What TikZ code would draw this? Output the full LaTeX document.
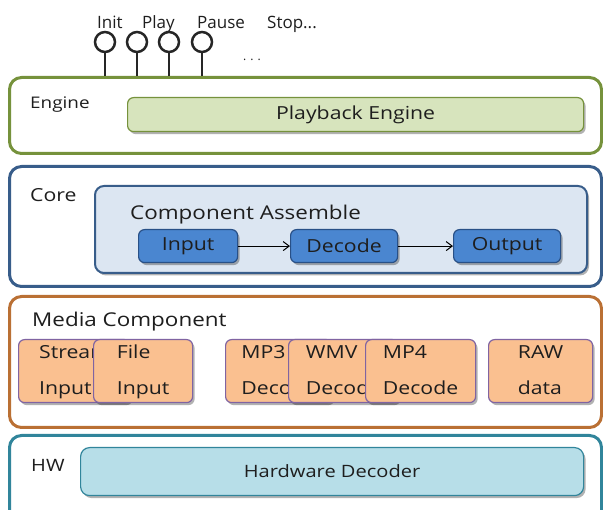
\documentclass[tikz,border=0pt]{standalone}
\usepackage{fontspec}
\setmainfont{Open Sans}[FakeStretch=1.18]
\newfontfamily\plainfont{Open Sans}
\usetikzlibrary{shadows,arrows.meta}

\definecolor{engline}{RGB}{118,146,60}
\definecolor{engfill}{RGB}{215,228,189}
\definecolor{coreline}{RGB}{56,93,138}
\definecolor{corefill}{RGB}{220,230,242}
\definecolor{bluefill}{RGB}{74,134,208}
\definecolor{blueline}{RGB}{40,80,135}
\definecolor{medline}{RGB}{186,112,52}
\definecolor{medfill}{RGB}{250,192,144}
\definecolor{purline}{RGB}{128,100,162}
\definecolor{hwline}{RGB}{49,133,155}
\definecolor{hwfill}{RGB}{183,222,232}
\definecolor{txt}{RGB}{30,30,30}

\tikzset{
  layerbox/.style={draw=#1, line width=3pt, rounded corners=12pt, fill=white,
    anchor=north west, inner sep=0pt},
  boxshadow/.style={drop shadow={shadow xshift=2pt, shadow yshift=-2.5pt, opacity=.3, fill=black}},
  innerbox/.style={anchor=north west, inner sep=0pt, rounded corners=6pt, line width=1.2pt,
    text=txt, boxshadow},
  medbox/.style={innerbox, draw=purline, fill=medfill, minimum height=63pt,
    align=left, font=\fontsize{18}{36}\selectfont, text depth=2pt},
  flowbox/.style={innerbox, draw=blueline, fill=bluefill, minimum height=33pt,
    font=\fontsize{18}{22}\selectfont},
  tag/.style={anchor=west, inner sep=0pt, text=txt},
  cmd/.style={anchor=base west, inner sep=0pt, text=txt, font=\plainfont\fontsize{17}{20}\selectfont},
  knob/.style={circle, draw=black!85, line width=2.5pt, minimum size=20pt, inner sep=0pt},
  stem/.style={draw=black!85, line width=2pt},
  flow/.style={draw=black, line width=1pt, -{Straight Barb[length=6pt,width=9pt]}}
}

\begin{document}
\begin{tikzpicture}[x=1pt,y=-1pt]
\useasboundingbox (0,0) rectangle (603,510);
\clip (0,0) rectangle (603,510);

% command labels and their knobs
\node[cmd] (linit)  at (97,29)  {Init};
\node[cmd] (lplay)  at (142,29) {Play};
\node[cmd] (lpause) at (197,29) {Pause};
\node[cmd] (lstop)  at (267,29) {Stop...};
\node[tag, anchor=center, font=\plainfont\fontsize{12}{14}\selectfont] (more) at (252,60) {. . .};

% Engine layer
\node[layerbox=engline, minimum width=592pt, minimum height=76pt] (eng) at (8,76) {};
\node[tag, font=\fontsize{16}{18}\selectfont] (englbl) at (30,105) {Engine};
\node[innerbox, draw=engline, fill=engfill, minimum width=456pt, minimum height=34pt,
  font=\fontsize{18}{20}\selectfont] (pbe) at (127,97) {Playback Engine};

\foreach \n/\x in {k1/105,k2/137,k3/169,k4/202}{
  \node[knob] (\n) at (\x,42) {};
  \draw[stem] (\n.south) -- (\n.south |- eng.north);
}

% Core layer
\node[layerbox=coreline, minimum width=592pt, minimum height=120pt] (core) at (8,165) {};
\node[tag, font=\fontsize{18}{20}\selectfont] (corelbl) at (30,195) {Core};
\node[innerbox, draw=coreline, fill=corefill, line width=2pt, rounded corners=9pt,
  minimum width=492pt, minimum height=87pt] (ca) at (94,185) {};
\node[tag, font=\fontsize{19}{22}\selectfont] (calbl) at (130,215) {Component Assemble};
\node[flowbox, minimum width=99pt]  (fin)  at (138,229) {Input};
\node[flowbox, minimum width=107pt] (fdec) at (290,229) {Decode};
\node[flowbox, minimum width=107pt] (fout) at (453,229) {Output};
\draw[flow] (fin.east) -- (fdec.west);
\draw[flow] (fdec.east) -- (fout.west);

% Media component layer
\node[layerbox=medline, minimum width=592pt, minimum height=131pt] (media) at (8,295) {};
\node[tag, font=\fontsize{19}{22}\selectfont] (medlbl) at (32,322) {Media Component};
\node[medbox, minimum width=112pt] (stream) at (18,339)  {Stream\\Input};
\node[medbox, minimum width=99pt]  (file)   at (93,339)  {File\\Input};
\node[medbox, minimum width=107pt] (mp3)    at (225,339) {MP3\\Decode};
\node[medbox, minimum width=110pt] (wmv)    at (288,339) {WMV\\Decode};
\node[medbox, minimum width=110pt] (mp4)    at (365,339) {MP4\\Decode};
\node[medbox, minimum width=104pt] (raw)    at (488,339) {RAW\\data};

% Hardware layer
\node[layerbox=hwline, minimum width=592pt, minimum height=90pt] (hw) at (8,434) {};
\node[tag, font=\fontsize{17}{20}\selectfont] (hwlbl) at (31,465) {HW};
\node[innerbox, draw=hwline, fill=hwfill, rounded corners=9pt, minimum width=503pt,
  minimum height=48pt, font=\fontsize{17}{20}\selectfont] (hwd) at (80,447) {Hardware Decoder};
\end{tikzpicture}
\end{document}
